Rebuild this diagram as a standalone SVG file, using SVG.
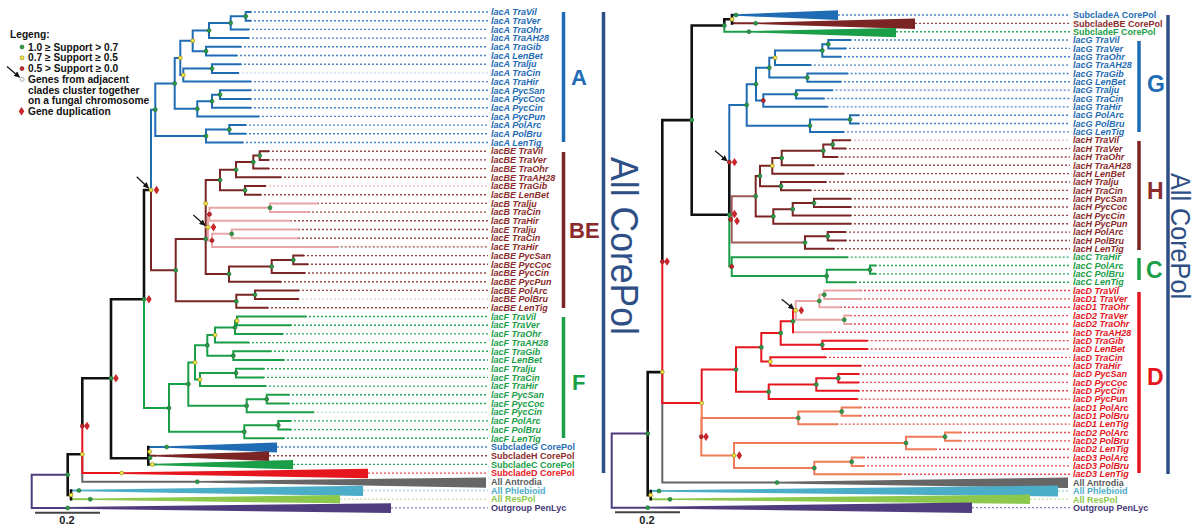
<svg xmlns="http://www.w3.org/2000/svg" width="1200" height="531" viewBox="0 0 1200 531">
<defs>
<style>
.t{fill:none;stroke-width:2;stroke-linecap:square}
.tk{fill:none;stroke-width:2.6;stroke-linecap:square;stroke:#111}
.bl{stroke:#1f6cb5}.br{stroke:#7a2424}.pk{stroke:#eaa6a6}.gr{stroke:#1a9e48}.rd{stroke:#e5161e}.or{stroke:#ef7c58}.gy{stroke:#666}.lb{stroke:#4badc8}.lgn{stroke:#8cc84b}.pu{stroke:#4e3c7e}.hr{stroke:#a05a5a}
.dt{fill:none;stroke-width:1.4;stroke-dasharray:2 2}
.ng{fill:#2e9a48;stroke:#1d6b30;stroke-width:0.6}
.ny{fill:#f3e84a;stroke:#8a7a10;stroke-width:0.6}
.nr{fill:#c8262c;stroke:#7a1010;stroke-width:0.6}
.lab{font-family:"Liberation Sans",Arial,sans-serif;font-size:9px;font-weight:bold}
.it{font-style:italic}
.leg{font-family:"Liberation Sans",Arial,sans-serif;font-size:10.2px;font-weight:bold;fill:#111}
.big{font-family:"Liberation Sans",Arial,sans-serif;font-weight:bold}
.ac{font-family:"Liberation Sans",Arial,sans-serif;fill:#2e4f86}
</style>
<path id="dm" d="M0,-4.2 L2.8,0 L0,4.2 L-2.8,0Z" fill="#c8262c"/>
<marker id="ah" viewBox="0 0 10 10" refX="9" refY="5" markerWidth="5" markerHeight="5" orient="auto"><path d="M0,0 L10,5 L0,10z" fill="#111"/></marker>
</defs>
<rect width="1200" height="531" fill="#fff"/>

<g id="legend">
<text class="leg" x="10" y="38" font-size="12.5">Legeng:</text>
<circle class="ng" cx="22" cy="47" r="2"/><text class="leg" x="28" y="50.6">1.0 ≥ Support &gt; 0.7</text>
<circle class="ny" cx="22" cy="57.8" r="2"/><text class="leg" x="28" y="61.4">0.7 ≥ Support ≥ 0.5</text>
<circle class="nr" cx="22" cy="68.6" r="2"/><text class="leg" x="28" y="72.2">0.5 &gt; Support ≥ 0.0</text>
<circle cx="22" cy="79.4" r="2" fill="#fff" stroke="#999" stroke-width="0.8"/>
<line x1="7" y1="66.5" x2="19.5" y2="77.2" stroke="#111" stroke-width="1.2" marker-end="url(#ah)"/>
<text class="leg" x="28" y="83">Genes from adjacent</text>
<text class="leg" x="28" y="93.6">clades cluster together</text>
<text class="leg" x="28" y="104.2">on a fungal chromosome</text>
<use href="#dm" x="21.5" y="111.2"/><text class="leg" x="28" y="114.8">Gene duplication</text>
</g>

<g id="connectors">
<!-- LEFT TREE dotted -->
<path class="dt" stroke="#4a86c8" d="M250,12H488M250,20.7H488M248,29.4H488M248,38.1H488M240,46.8H488M236,55.5H488M240,64.2H488M250,81.6H488M250,90.3H488M250,99H488M250,107.7H488M258,116.4H488M245,125.1H488M245,133.8H488M242,142.5H488M277,447H488"/>
<path class="dt" stroke="#c8dcef" d="M238,72.9H488"/>
<path class="dt" stroke="#9a4a4a" d="M268,151.2H488M268,159.9H488M268,168.6H488M280,177.3H488M260,194.7H488M317,203.4H488M308,212.1H488M290,220.8H488M298,229.5H488M298,238.2H488M336.7,246.9H488M303,255.6H488M307,264.3H488M304,273H488M280,281.7H488M298,290.4H488M267,307.8H488M269,455.7H488"/>
<path class="dt" stroke="#e3c6c6" d="M265,186H488M298,299.1H488"/>
<path class="dt" stroke="#2aa860" d="M305,316.5H488M290,325.2H488M282,333.9H488M248,342.6H488M270,351.3H488M283,360H488M263,368.7H488M263,377.4H488M265,386.1H488M288,394.8H488M288,403.5H488M290,420.9H488M290,429.6H488M283,438.3H488M293,464.4H488"/>
<path class="dt" stroke="#bfe3cc" d="M313,412.2H488"/>
<path class="dt" stroke="#e84a50" d="M368,473.1H488"/>
<path class="dt" stroke="#a9d8e6" d="M363,490.5H488"/>
<path class="dt" stroke="#cde6ad" d="M340,499.2H488"/>
<path class="dt" stroke="#8a7cb0" d="M391,507.9H488"/>

<!-- LEFT wedges -->
<polygon fill="#1f6cb5" points="167,446.3 277,442.5 277,452.5 167,447.8"/>
<polygon fill="#7a2424" points="155,455 269,451.5 269,461 155,456.5"/>
<polygon fill="#1a9e48" points="156,463.7 293,460 293,469.3 156,465.2"/>
<polygon fill="#e5161e" points="122,472.3 368,468.8 368,478.3 122,473.9"/>
<polygon fill="#666" points="197,481 486,477.5 486,487.7 197,482.6"/>
<polygon fill="#4badc8" points="79,489.7 363,485.7 363,496 79,491.3"/>
<polygon fill="#8cc84b" points="90,498.4 340,495 340,503.3 90,500"/>
<polygon fill="#4e3c7e" points="67.7,507 391,503.3 391,513 67.7,508.8"/>

<!-- LEFT clade A -->
<path class="t bl" d="M245.7,12V20.7M245.7,12H250M245.7,20.7H250M230.7,16.35V29.4M230.7,16.35H245.7M230.7,29.4H248M209,22.9V38.1M209,22.9H230.7M209,38.1H248M206,46.8V55.5M206,46.8H240M206,55.5H236M192.7,30.5V51.15M192.7,30.5H209M192.7,51.15H206M212,64.2V72.9M212,64.2H240M212,72.9H238M183.3,68.55V81.6M183.3,68.55H212M183.3,81.6H250M180.3,40.8V75.1M180.3,40.8H192.7M180.3,75.1H183.3M220,90.3V99M220,90.3H250M220,99H250M212,94.65V107.7M212,94.65H220M212,107.7H250M197.3,101.2V116.4M197.3,101.2H212M197.3,116.4H258M174.7,57.95V108.8M174.7,57.95H180.3M174.7,108.8H197.3M229.3,125.1V133.8M229.3,125.1H245M229.3,133.8H245M206,129.45V142.5M206,129.45H229.3M206,142.5H242M155.3,83.4V136M155.3,83.4H174.7M155.3,136H206M151,190V109.7H155.3"/>
<!-- LEFT clade BE -->
<path class="t br" d="M259.7,151.2V159.9M259.7,151.2H268M259.7,159.9H268M253.3,155.55V168.6M253.3,155.55H259.7M253.3,168.6H268M236,162.1V177.3M236,162.1H253.3M236,177.3H280M245,186V194.7M245,186H265M245,194.7H260M220,169.7V190.35M220,169.7H236M220,190.35H245M205.7,180V274.1M205.7,180H220M205.7,274.1H229M293.3,255.6V264.3M293.3,255.6H303M293.3,264.3H307M271.7,259.95V273M271.7,259.95H293.3M271.7,273H304M229,266.5V281.7M229,266.5H271.7M229,281.7H280M255,290.4V299.1M255,290.4H298M255,299.1H298M236.3,294.75V307.8M236.3,294.75H255M236.3,307.8H267M175.7,239V301.3M175.7,239H205.7M175.7,301.3H236.3M151,190V270.3H175.7"/>
<path class="t pk" d="M270,203.4V212.1M270,203.4H317M270,212.1H308M209.5,207.75V220.8M209.5,207.75H270M209.5,220.8H290M231.7,229.5V238.2M231.7,229.5H298M231.7,238.2H298M212,233.85V246.9M212,233.85H231.7M212,246.9H336.7M208,214.3V240.4M208,214.3H209.5M208,240.4H212M205.7,227.3H208"/>
<!-- LEFT clade F -->
<path class="t gr" d="M237,316.5V325.2M237,316.5H305M237,325.2H290M235,320.85V333.9M235,320.85H237M235,333.9H282M215,327.4V342.6M215,327.4H235M215,342.6H248M233.3,351.3V360M233.3,351.3H270M233.3,360H283M207.3,335V355.65M207.3,335H215M207.3,355.65H233.3M236,368.7V377.4M236,368.7H263M236,377.4H263M200,373.05V386.1M200,373.05H236M200,386.1H265M195,345.3V379.6M195,345.3H207.3M195,379.6H200M266.7,394.8V403.5M266.7,394.8H288M266.7,403.5H288M246.7,399.15V412.2M246.7,399.15H266.7M246.7,412.2H313M188.3,362.5V405.7M188.3,362.5H195M188.3,405.7H246.7M278.3,420.9V429.6M278.3,420.9H290M278.3,429.6H290M244.3,425.25V438.3M244.3,425.25H278.3M244.3,438.3H283M169,384.1V431.8M169,384.1H188.3M169,431.8H244.3M144,299.3V408H169M148.3,464.4H156"/>
<path class="t bl" d="M148.3,447H167"/>
<path class="t br" d="M148.3,455.7H155"/>
<path class="t gy" d="M82.3,454.3V481.8H198"/>
<path class="t rd" d="M82.3,426V473.1H122"/>
<path class="t lb" d="M71,490.5H80"/>
<path class="t lgn" d="M71,499.2H90"/>
<path class="t pu" d="M67.7,474.7H31.7V507.9H68"/>
<path class="tk" d="M151,190H144V299.3M111,299.3H144M111,299.3V458.3H148.3M82.3,378.3H111M82.3,378.3V426M67.7,454.3H82.3M67.7,454.3V495H71M71,490.5V499.2M148.3,447V464.4"/>

<!-- RIGHT TREE dotted -->
<path class="dt" stroke="#4a86c8" d="M838,15H1070M850,40.05H1070M845,48.4H1070M840,56.75H1070M810,65.1H1070M846.7,73.45H1070M840,81.8H1070M831.7,90.15H1070M823.3,98.5H1070M826.7,106.85H1070M858,115.2H1070M858,123.55H1070M843,131.9H1070"/>
<path class="dt" stroke="#9a4a4a" d="M915,23.35H1070M845,148.6H1070M836.7,156.95H1070M813,165.3H1070M843,173.65H1070M825,182H1070M810,190.35H1070M850,198.7H1070M850,207.05H1070M850,215.4H1070M850,223.75H1070M845,232.1H1070M845,240.45H1070M833,248.8H1070"/>
<path class="dt" stroke="#e3c6c6" d="M850,140.25H1070"/>
<path class="dt" stroke="#2aa860" d="M896,31.7H1070M846.7,257.15H1070M875,265.5H1070M875,273.85H1070M855,282.2H1070"/>
<path class="dt" stroke="#e84a50" d="M860,290.55H1070M860,298.9H1070M840,307.25H1070M850,315.6H1070M850,323.95H1070M830,332.3H1070M866.7,340.65H1070M866.7,349H1070M825,357.35H1070M860,365.7H1070M858,374.05H1070M858,382.4H1070M858,390.75H1070M856.7,399.1H1070M860,407.45H1070M860,415.8H1070M836.7,424.15H1070M960,432.5H1070M960,440.85H1070M935,449.2H1070M863,457.55H1070M863,465.9H1070M900,474.25H1070"/>
<path class="dt" stroke="#a9d8e6" d="M1058,490.95H1070"/>
<path class="dt" stroke="#cde6ad" d="M1030,499.3H1070"/>
<path class="dt" stroke="#8a7cb0" d="M972,507.65H1070"/>

<!-- RIGHT wedges -->
<polygon fill="#1f6cb5" points="736,14.3 838,10.3 838,20 736,15.7"/>
<polygon fill="#7a2424" points="755.7,22.6 915,18.5 915,29 755.7,24.1"/>
<polygon fill="#1a9e48" points="749,31 896,28 896,37.3 749,32.4"/>
<polygon fill="#666" points="777,481.8 1068,477.5 1068,488 777,483.4"/>
<polygon fill="#4badc8" points="659,490.2 1058,485.5 1058,496.5 659,491.7"/>
<polygon fill="#8cc84b" points="670,498.5 1030,494.5 1030,504 670,500.1"/>
<polygon fill="#4e3c7e" points="647.7,506.8 972,502.5 972,513 647.7,508.5"/>

<!-- RIGHT clade G -->
<path class="t bl" d="M732,15H736M828.3,40.05V48.4M828.3,40.05H850M828.3,48.4H845M822.3,44.2V56.75M822.3,44.2H828.3M822.3,56.75H840M775,50.5V65.1M775,50.5H822.3M775,65.1H810M807.3,73.45V81.8M807.3,73.45H846.7M807.3,81.8H840M769.3,57.8V77.6M769.3,57.8H775M769.3,77.6H807.3M796,90.15V98.5M796,90.15H831.7M796,98.5H823.3M763.3,94.3V106.85M763.3,94.3H796M763.3,106.85H826.7M756,67.7V100.6M756,67.7H769.3M756,100.6H763.3M850,115.2V123.55M850,115.2H858M850,123.55H858M810,119.4V131.9M810,119.4H850M810,131.9H843M746.7,84.15V125.65M746.7,84.15H756M746.7,125.65H810M729.3,162.15V104.9H746.7"/>
<!-- RIGHT clade H -->
<path class="t br" d="M732,23.35H756M832.7,140.25V148.6M832.7,140.25H850M832.7,148.6H845M823.3,144.4V156.95M823.3,144.4H832.7M823.3,156.95H836.7M781.7,150.7V165.3M781.7,150.7H823.3M781.7,165.3H813M772.3,158V173.65M772.3,158H781.7M772.3,173.65H843M781,182V190.35M781,182H825M781,190.35H810M760,165.8V186.2M760,165.8H772.3M760,186.2H781M814,198.7V207.05M814,198.7H850M814,207.05H850M792.7,202.9V215.4M792.7,202.9H814M792.7,215.4H850M773.3,209.15V223.75M773.3,209.15H792.7M773.3,223.75H850M755.7,176V216.45M755.7,176H760M755.7,216.45H773.3M827.7,232.1V240.45M827.7,232.1H845M827.7,240.45H845M805,236.3V248.8M805,236.3H827.7M805,248.8H833"/>
<path class="t hr" d="M731.7,196.2V242.55M731.7,196.2H755.7M731.7,242.55H805M729.3,219.4H731.7"/>
<!-- RIGHT clade C -->
<path class="t gr" d="M724.3,25.45V31.7H749M870,265.5V273.85M870,265.5H875M870,273.85H875M826.7,269.7V282.2M826.7,269.7H870M826.7,282.2H855M731.7,257.15V275.95M731.7,257.15H846.7M731.7,275.95H826.7M729.3,214.7V266.55H731.7"/>
<!-- RIGHT clade D -->
<path class="t pk" d="M824.3,290.55V298.9M824.3,290.55H860M824.3,298.9H860M819.3,294.7V307.25M819.3,294.7H824.3M819.3,307.25H840M844.3,315.6V323.95M844.3,315.6H850M844.3,323.95H850M795.7,301V319.8M795.7,301H819.3M795.7,319.8H844.3M793,310.4H795.7M793,332.3H830"/>
<path class="t rd" d="M793,310.4V332.3M822.3,340.65V349M822.3,340.65H866.7M822.3,349H866.7M780.7,321.35V344.8M780.7,321.35H793M780.7,344.8H822.3M770.3,357.35V365.7M770.3,357.35H825M770.3,365.7H860M761.3,333.1V361.5M761.3,333.1H780.7M761.3,361.5H770.3M838.3,374.05V382.4M838.3,374.05H858M838.3,382.4H858M816.3,378.2V390.75M816.3,378.2H838.3M816.3,390.75H858M768.7,384.5V399.1M768.7,384.5H816.3M768.7,399.1H856.7M736,347.3V391.8M736,347.3H761.3M736,391.8H768.7"/>
<path class="t or" d="M841.7,407.45V415.8M841.7,407.45H860M841.7,415.8H860M798.3,411.6V424.15M798.3,411.6H841.7M798.3,424.15H836.7M945,432.5V440.85M945,432.5H960M945,440.85H960M906,436.7V449.2M906,436.7H945M906,449.2H935M851.7,457.55V465.9M851.7,457.55H863M851.7,465.9H863M814.3,461.7V474.25M814.3,461.7H851.7M814.3,474.25H900M734,442.95V468M734,442.95H906M734,468H814.3M701.3,417.9V455.5M701.3,417.9H798.3M701.3,455.5H734M701.7,403.1V436.7"/>
<path class="t gy" d="M662.3,372.1V482.6H777"/>
<path class="t rd" d="M662.3,261.6V403.1H701.7M701.7,369.55V403.1M701.7,369.55H736"/>
<path class="t lb" d="M650.7,490.95H659"/>
<path class="t lgn" d="M650.7,499.3H670"/>
<path class="t pu" d="M647.7,433.6H611.7V507.65H648"/>
<path class="tk" d="M691.7,25.45V214.7M691.7,25.45H724.3M724.3,19.2V25.45M724.3,19.2H732M732,15V23.35M691.7,214.7H729.3M729.3,162.15V214.7M691.7,120.1H662.3V261.6M647.7,372.1H662.3M647.7,372.1V495.1H650.7M650.7,490.95V499.3"/>

<!-- scale bars -->
<path d="M35,512.7H100M615,512.3H680" stroke="#444" stroke-width="2" fill="none"/>

<!-- arrows -->
<g stroke="#111" stroke-width="1.2" marker-end="url(#ah)">
<line x1="136.7" y1="176.7" x2="148.5" y2="188"/>
<line x1="193.3" y1="215" x2="205" y2="225.3"/>
<line x1="715" y1="150.7" x2="727" y2="160.8"/>
<line x1="781.7" y1="299.3" x2="793.8" y2="309"/>
</g>
</g>

<g id="node-dots">
<g class="ng">
<circle cx="245.7" cy="16.35" r="2"/><circle cx="230.7" cy="22.9" r="2"/><circle cx="209" cy="30.5" r="2"/><circle cx="206" cy="51.15" r="2"/><circle cx="212" cy="68.55" r="2"/><circle cx="220" cy="94.65" r="2"/><circle cx="212" cy="101.2" r="2"/><circle cx="197.3" cy="108.8" r="2"/><circle cx="174.7" cy="83.4" r="2"/><circle cx="229.3" cy="129.45" r="2"/><circle cx="206" cy="136" r="2"/><circle cx="155.3" cy="109.7" r="2"/>
<circle cx="259.7" cy="155.55" r="2"/><circle cx="253.3" cy="162.1" r="2"/><circle cx="236" cy="169.7" r="2"/><circle cx="245" cy="190.35" r="2"/><circle cx="220" cy="180" r="2"/><circle cx="270" cy="207.75" r="2"/><circle cx="231.7" cy="233.85" r="2"/><circle cx="205.7" cy="239" r="2"/><circle cx="293.3" cy="259.95" r="2"/><circle cx="271.7" cy="266.5" r="2"/><circle cx="229" cy="274.1" r="2"/><circle cx="255" cy="294.75" r="2"/><circle cx="236.3" cy="301.3" r="2"/><circle cx="175.7" cy="270.3" r="2"/>
<circle cx="235" cy="327.4" r="2"/><circle cx="233.3" cy="355.65" r="2"/><circle cx="207.3" cy="345.3" r="2"/><circle cx="236" cy="373.05" r="2"/><circle cx="266.7" cy="399.15" r="2"/><circle cx="246.7" cy="405.7" r="2"/><circle cx="188.3" cy="384.1" r="2"/><circle cx="278.3" cy="425.25" r="2"/><circle cx="244.3" cy="431.8" r="2"/><circle cx="169" cy="408" r="2"/>
<circle cx="144" cy="299.3" r="2"/><circle cx="111" cy="378.3" r="2"/><circle cx="67.7" cy="474.7" r="2"/><circle cx="79" cy="490.5" r="2"/><circle cx="90.3" cy="499.2" r="2"/><circle cx="67.7" cy="507.9" r="2"/><circle cx="197.3" cy="481.8" r="2"/><circle cx="150" cy="457.7" r="2"/><circle cx="166.7" cy="447" r="2"/>
<circle cx="828.3" cy="44.2" r="2"/><circle cx="822.3" cy="50.5" r="2"/><circle cx="807.3" cy="77.6" r="2"/><circle cx="769.3" cy="67.7" r="2"/><circle cx="796" cy="94.3" r="2"/><circle cx="756" cy="84.15" r="2"/><circle cx="850" cy="119.4" r="2"/><circle cx="810" cy="125.65" r="2"/><circle cx="746.7" cy="104.9" r="2"/>
<circle cx="832.7" cy="144.4" r="2"/><circle cx="823.3" cy="150.7" r="2"/><circle cx="781.7" cy="158" r="2"/><circle cx="781" cy="186.2" r="2"/><circle cx="760" cy="176" r="2"/><circle cx="814" cy="202.9" r="2"/><circle cx="792.7" cy="209.15" r="2"/><circle cx="773.3" cy="216.45" r="2"/><circle cx="755.7" cy="196.2" r="2"/><circle cx="827.7" cy="236.3" r="2"/><circle cx="805" cy="242.55" r="2"/>
<circle cx="870" cy="269.7" r="2"/><circle cx="826.7" cy="275.95" r="2"/>
<circle cx="824.3" cy="294.7" r="2"/><circle cx="819.3" cy="301" r="2"/><circle cx="844.3" cy="319.8" r="2"/><circle cx="793" cy="321.35" r="2"/><circle cx="822.3" cy="344.8" r="2"/><circle cx="780.7" cy="333.1" r="2"/><circle cx="761.3" cy="347.3" r="2"/><circle cx="838.3" cy="378.2" r="2"/><circle cx="816.3" cy="384.5" r="2"/><circle cx="768.7" cy="391.8" r="2"/><circle cx="736" cy="369.55" r="2"/><circle cx="841.7" cy="411.6" r="2"/><circle cx="798.3" cy="417.9" r="2"/><circle cx="945" cy="436.7" r="2"/><circle cx="906" cy="442.95" r="2"/><circle cx="851.7" cy="461.7" r="2"/><circle cx="814.3" cy="468" r="2"/>
<circle cx="691.7" cy="120.1" r="2"/><circle cx="729.3" cy="214.7" r="2"/><circle cx="647.7" cy="433.6" r="2"/><circle cx="659" cy="490.95" r="2"/><circle cx="670" cy="499.3" r="2"/><circle cx="647.7" cy="507.65" r="2"/><circle cx="777" cy="482.6" r="2"/><circle cx="724.3" cy="25.45" r="2"/><circle cx="736" cy="15" r="2"/><circle cx="755.7" cy="23.35" r="2"/><circle cx="749" cy="31.7" r="2"/>
</g>
<g class="ny">
<circle cx="192.7" cy="40.8" r="2"/><circle cx="183.3" cy="75.1" r="2"/><circle cx="180.3" cy="57.95" r="2"/><circle cx="208" cy="227.3" r="2"/><circle cx="205.7" cy="203.6" r="2"/><circle cx="151" cy="190" r="2"/><circle cx="237" cy="320.85" r="2"/><circle cx="215" cy="335" r="2"/><circle cx="200" cy="379.6" r="2"/><circle cx="195" cy="362.5" r="2"/><circle cx="82.3" cy="454.3" r="2"/><circle cx="71" cy="495" r="2"/><circle cx="121.7" cy="473.1" r="2"/><circle cx="149.7" cy="451.7" r="2"/><circle cx="152.3" cy="464.4" r="2"/>
<circle cx="775" cy="57.8" r="2"/><circle cx="772.3" cy="165.8" r="2"/><circle cx="795.7" cy="310.4" r="2"/><circle cx="770.3" cy="361.5" r="2"/><circle cx="734" cy="455.5" r="2"/><circle cx="701.7" cy="403.1" r="2"/><circle cx="662.3" cy="372.1" r="2"/><circle cx="650.7" cy="495.1" r="2"/><circle cx="732" cy="19.2" r="2"/>
</g>
<g class="nr">
<circle cx="209.5" cy="214.3" r="2"/><circle cx="212" cy="240.4" r="2"/><circle cx="82.3" cy="426" r="2"/>
<circle cx="763.3" cy="100.6" r="2"/><circle cx="730.5" cy="219.4" r="2"/><circle cx="731.7" cy="266.55" r="2"/><circle cx="701.3" cy="436.7" r="2"/><circle cx="729.3" cy="162.15" r="2"/><circle cx="662.3" cy="261.6" r="2"/>
</g>
<g id="duplications">
<use href="#dm" x="156.5" y="190"/><use href="#dm" x="213.5" y="227.3"/><use href="#dm" x="148.9" y="299.3"/><use href="#dm" x="115.9" y="378.3"/><use href="#dm" x="87" y="426"/>
<use href="#dm" x="734.5" y="162.15"/><use href="#dm" x="734.5" y="214"/><use href="#dm" x="737" y="221"/><use href="#dm" x="667" y="261.6"/><use href="#dm" x="801.3" y="310.4"/><use href="#dm" x="706" y="436.7"/><use href="#dm" x="739.3" y="455.5"/>
</g>
</g>

<g id="labels-left" class="lab">
<g class="it" fill="#1f6cb5">
<text x="491" y="15.2">lacA TraVil</text><text x="491" y="23.9">lacA TraVer</text><text x="491" y="32.6">lacA TraOhr</text><text x="491" y="41.3">lacA TraAH28</text><text x="491" y="50">lacA TraGib</text><text x="491" y="58.7">lacA LenBet</text><text x="491" y="67.4">lacA Tralju</text><text x="491" y="76.1">lacA TraCin</text><text x="491" y="84.8">lacA TraHir</text><text x="491" y="93.5">lacA PycSan</text><text x="491" y="102.2">lacA PycCoc</text><text x="491" y="110.9">lacA PycCin</text><text x="491" y="119.6">lacA PycPun</text><text x="491" y="128.3">lacA PolArc</text><text x="491" y="137">lacA PolBru</text><text x="491" y="145.7">lacA LenTig</text>
</g>
<g class="it" fill="#8b2b2b">
<text x="491" y="154.4">lacBE TraVil</text><text x="491" y="163.1">lacBE TraVer</text><text x="491" y="171.8">lacBE TraOhr</text><text x="491" y="180.5">lacBE TraAH28</text><text x="491" y="189.2">lacBE TraGib</text><text x="491" y="197.9">lacBE LenBet</text><text x="491" y="206.6">lacB Tralju</text><text x="491" y="215.3">lacB TraCin</text><text x="491" y="224">lacB TraHir</text><text x="491" y="232.7">lacE Tralju</text><text x="491" y="241.4">lacE TraCin</text><text x="491" y="250.1">lacE TraHir</text><text x="491" y="258.8">lacBE PycSan</text><text x="491" y="267.5">lacBE PycCoc</text><text x="491" y="276.2">lacBE PycCin</text><text x="491" y="284.9">lacBE PycPun</text><text x="491" y="293.6">lacBE PolArc</text><text x="491" y="302.3">lacBE PolBru</text><text x="491" y="311">lacBE LenTig</text>
</g>
<g class="it" fill="#1a9e48">
<text x="491" y="319.7">lacF TraVil</text><text x="491" y="328.4">lacF TraVer</text><text x="491" y="337.1">lacF TraOhr</text><text x="491" y="345.8">lacF TraAH28</text><text x="491" y="354.5">lacF TraGib</text><text x="491" y="363.2">lacF LenBet</text><text x="491" y="371.9">lacF Tralju</text><text x="491" y="380.6">lacF TraCin</text><text x="491" y="389.3">lacF TraHir</text><text x="491" y="398">lacF PycSan</text><text x="491" y="406.7">lacF PycCoc</text><text x="491" y="415.4">lacF PycCin</text><text x="491" y="424.1">lacF PolArc</text><text x="491" y="432.8">lacF PolBru</text><text x="491" y="441.5">lacF LenTig</text>
</g>
<text x="491" y="450.2" fill="#1f6cb5">SubcladeG CorePol</text>
<text x="491" y="458.9" fill="#8b2b2b">SubcladeH CorePol</text>
<text x="491" y="467.6" fill="#1a9e48">SubcladeC CorePol</text>
<text x="491" y="476.3" fill="#e5161e">SubcladeD CorePol</text>
<text x="491" y="485" fill="#5a5a5a">All Antrodia</text>
<text x="491" y="493.7" fill="#4badc8">All Phlebioid</text>
<text x="491" y="502.4" fill="#8cc84b">All ResPol</text>
<text x="491" y="511.1" fill="#463878">Outgroup PenLyc</text>
<text x="67" y="524" text-anchor="middle" font-size="11" fill="#222">0.2</text>
</g>

<g id="labels-right" class="lab">
<text x="1073" y="18.2" fill="#1f6cb5">SubcladeA CorePol</text>
<text x="1073" y="26.55" fill="#8b2b2b">SubcladeBE CorePol</text>
<text x="1073" y="34.9" fill="#1a9e48">SubcladeF CorePol</text>
<g class="it" fill="#1f6cb5">
<text x="1073" y="43.25">lacG TraVil</text><text x="1073" y="51.6">lacG TraVer</text><text x="1073" y="59.95">lacG TraOhr</text><text x="1073" y="68.3">lacG TraAH28</text><text x="1073" y="76.65">lacG TraGib</text><text x="1073" y="85">lacG LenBet</text><text x="1073" y="93.35">lacG Tralju</text><text x="1073" y="101.7">lacG TraCin</text><text x="1073" y="110.05">lacG TraHir</text><text x="1073" y="118.4">lacG PolArc</text><text x="1073" y="126.75">lacG PolBru</text><text x="1073" y="135.1">lacG LenTig</text>
</g>
<g class="it" fill="#8b2b2b">
<text x="1073" y="143.45">lacH TraVil</text><text x="1073" y="151.8">lacH TraVer</text><text x="1073" y="160.15">lacH TraOhr</text><text x="1073" y="168.5">lacH TraAH28</text><text x="1073" y="176.85">lacH LenBet</text><text x="1073" y="185.2">lacH Tralju</text><text x="1073" y="193.55">lacH TraCin</text><text x="1073" y="201.9">lacH PycSan</text><text x="1073" y="210.25">lacH PycCoc</text><text x="1073" y="218.6">lacH PycCin</text><text x="1073" y="226.95">lacH PycPun</text><text x="1073" y="235.3">lacH PolArc</text><text x="1073" y="243.65">lacH PolBru</text><text x="1073" y="252">lacH LenTig</text>
</g>
<g class="it" fill="#1a9e48">
<text x="1073" y="260.35">lacC TraHir</text><text x="1073" y="268.7">lacC PolArc</text><text x="1073" y="277.05">lacC PolBru</text><text x="1073" y="285.4">lacC LenTig</text>
</g>
<g class="it" fill="#e5161e">
<text x="1073" y="293.75">lacD TraVil</text><text x="1073" y="302.1">lacD1 TraVer</text><text x="1073" y="310.45">lacD1 TraOhr</text><text x="1073" y="318.8">lacD2 TraVer</text><text x="1073" y="327.15">lacD2 TraOhr</text><text x="1073" y="335.5">lacD TraAH28</text><text x="1073" y="343.85">lacD TraGib</text><text x="1073" y="352.2">lacD LenBet</text><text x="1073" y="360.55">lacD TraCin</text><text x="1073" y="368.9">lacD TraHir</text><text x="1073" y="377.25">lacD PycSan</text><text x="1073" y="385.6">lacD PycCoc</text><text x="1073" y="393.95">lacD PycCin</text><text x="1073" y="402.3">lacD PycPun</text><text x="1073" y="410.65">lacD1 PolArc</text><text x="1073" y="419">lacD1 PolBru</text><text x="1073" y="427.35">lacD1 LenTig</text><text x="1073" y="435.7">lacD2 PolArc</text><text x="1073" y="444.05">lacD2 PolBru</text><text x="1073" y="452.4">lacD2 LenTig</text><text x="1073" y="460.75">lacD3 PolArc</text><text x="1073" y="469.1">lacD3 PolBru</text><text x="1073" y="477.45">lacD3 LenTig</text>
</g>
<text x="1073" y="485.8" fill="#5a5a5a">All Antrodia</text>
<text x="1073" y="494.15" fill="#4badc8">All Phlebioid</text>
<text x="1073" y="502.5" fill="#8cc84b">All ResPol</text>
<text x="1073" y="510.85" fill="#463878">Outgroup PenLyc</text>
<text x="647" y="524" text-anchor="middle" font-size="11" fill="#222">0.2</text>
</g>

<g id="clade-bars">
<path d="M563.5,12V142" stroke="#1f6cb5" stroke-width="3.5"/>
<path d="M603.5,12V473" stroke="#2e4f86" stroke-width="3.5"/>
<path d="M563.5,152V308" stroke="#7a2424" stroke-width="3.5"/>
<path d="M563.5,317V438" stroke="#1a9e48" stroke-width="3.5"/>
<path d="M1139,41V132" stroke="#1f6cb5" stroke-width="3.5"/>
<path d="M1139,141V250" stroke="#7a2424" stroke-width="3.5"/>
<path d="M1139,258V280" stroke="#1a9e48" stroke-width="3.5"/>
<path d="M1139,292V473" stroke="#e5161e" stroke-width="3.5"/>
<path d="M1168,15V474" stroke="#2e4f86" stroke-width="3.5"/>
<text class="big" x="571" y="85" font-size="22" fill="#1f6cb5">A</text>
<text class="big" x="569" y="237.5" font-size="22" fill="#8b2b2b">BE</text>
<text class="big" x="572" y="389.5" font-size="22" fill="#1a9e48">F</text>
<text class="big" x="1147" y="91.5" font-size="23" fill="#1f6cb5">G</text>
<text class="big" x="1147" y="199" font-size="23" fill="#8b2b2b">H</text>
<text class="big" x="1146" y="278" font-size="23" fill="#1a9e48">C</text>
<text class="big" x="1147" y="385" font-size="23" fill="#e5161e">D</text>
<text class="ac" transform="translate(611,246) rotate(90)" text-anchor="middle" font-size="38" textLength="178" lengthAdjust="spacingAndGlyphs">All CorePol</text>
<text class="ac" transform="translate(1171,236) rotate(90)" text-anchor="middle" font-size="27" textLength="126" lengthAdjust="spacingAndGlyphs">All CorePol</text>
</g>
</svg>
